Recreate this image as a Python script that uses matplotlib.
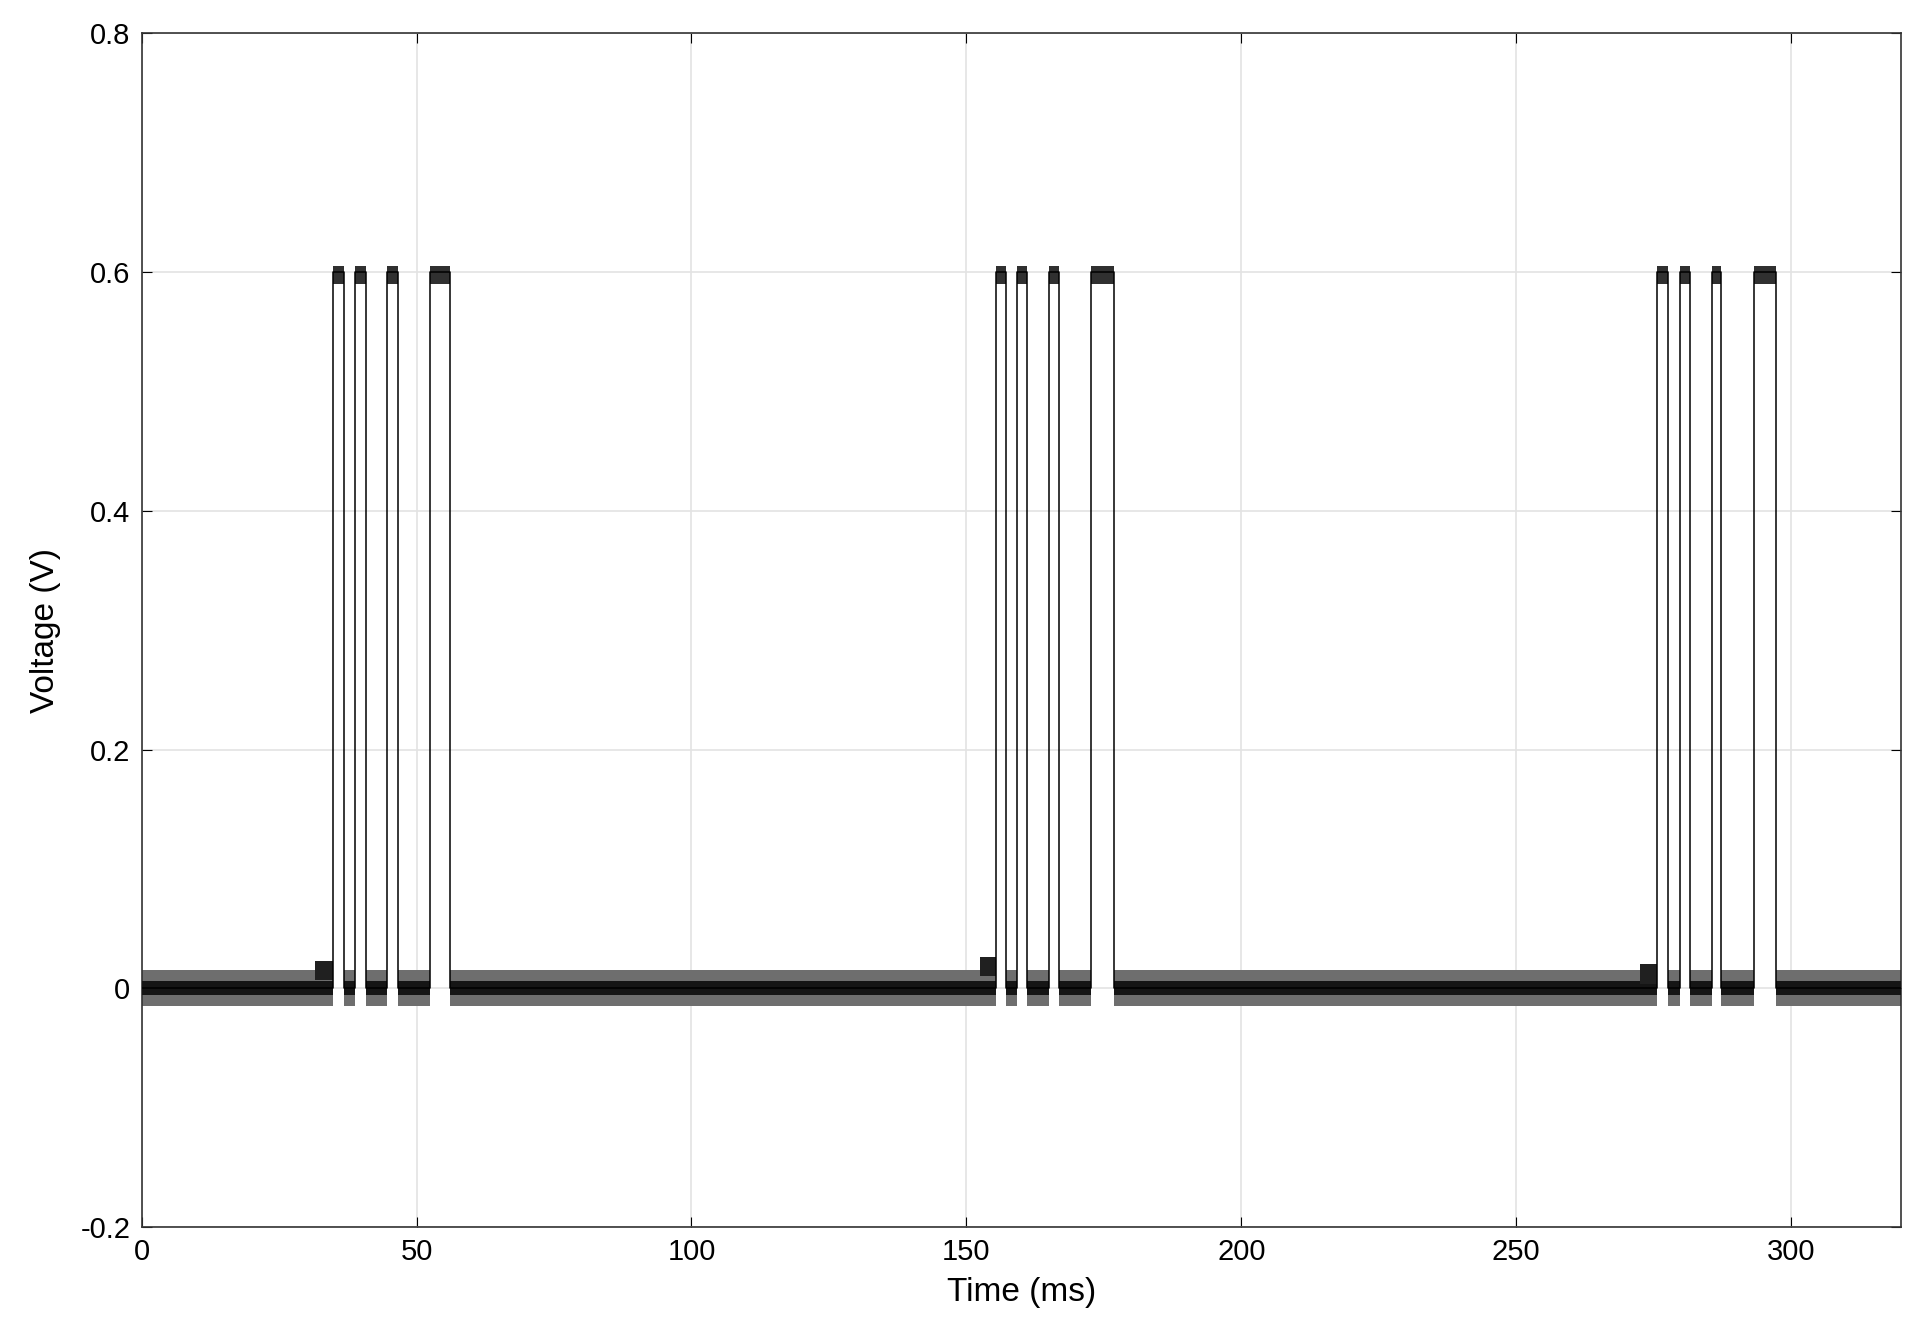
import matplotlib
matplotlib.use("Agg")
import matplotlib.pyplot as plt

# pulse edges (ms): (rise, fall)
pulses = [(34.9, 36.8), (38.8, 40.8), (44.6, 46.6), (52.4, 56.1),
          (155.3, 157.2), (159.2, 161.0), (165.0, 166.9), (172.7, 176.9),
          (275.6, 277.6), (279.7, 281.6), (285.5, 287.3), (293.2, 297.2)]
high_level = 0.60
low_level = 0.0
pre_burst = [(31.5, 34.9, 0.015), (152.5, 155.3, 0.018), (272.5, 275.6, 0.012)]
noise_half = 0.006
noise_outer = 0.015
t_end = 320

plt.rcParams['font.family'] = ['Liberation Sans', 'DejaVu Sans']

xs = [0.0]
ys = [low_level]
for r, f in pulses:
    xs += [r, r, f, f]
    ys += [low_level, high_level, high_level, low_level]
xs.append(t_end); ys.append(low_level)

fig = plt.figure(figsize=(19.29, 13.40), dpi=100)
ax = fig.add_axes([0.0734, 0.0843, 0.9122, 0.8907])

edges = [0.0] + [v for p in pulses for v in p] + [t_end]
lows = [(edges[i], edges[i + 1]) for i in range(0, len(edges), 2)]
for a, b in lows:
    ax.fill_between([a, b], -noise_outer, noise_outer, color="#6e6e6e", lw=0, zorder=2)
    ax.fill_between([a, b], -noise_half, noise_half, color="#151515", lw=0, zorder=3)
for r, f in pulses:
    ax.fill_between([r, f], high_level - 0.01, high_level + 0.005, color="#303030", lw=0, zorder=3)
for a, b, lv in pre_burst:
    ax.fill_between([a, b], lv - 0.008, lv + 0.008, color="#202020", lw=0, zorder=3)

ax.plot(xs, ys, color="black", lw=1.1, zorder=4)

ax.set_xlim(0, t_end)
ax.set_ylim(-0.2, 0.8)
ax.set_xticks([0, 50, 100, 150, 200, 250, 300])
ax.set_yticks([-0.2, 0, 0.2, 0.4, 0.6, 0.8])
ax.set_yticklabels(["-0.2", "0", "0.2", "0.4", "0.6", "0.8"])
ax.grid(True, color="#e3e3e3", lw=1.2)
ax.set_axisbelow(True)
ax.tick_params(labelsize=21, direction="in", length=7, top=True, right=True, pad=8)
ax.set_xlabel("Time (ms)", fontsize=24, labelpad=8)
ax.set_ylabel("Voltage (V)", fontsize=24, labelpad=14)
for s in ax.spines.values():
    s.set_color("#333333"); s.set_linewidth(1.2)
fig.savefig("out.png", dpi=100)
